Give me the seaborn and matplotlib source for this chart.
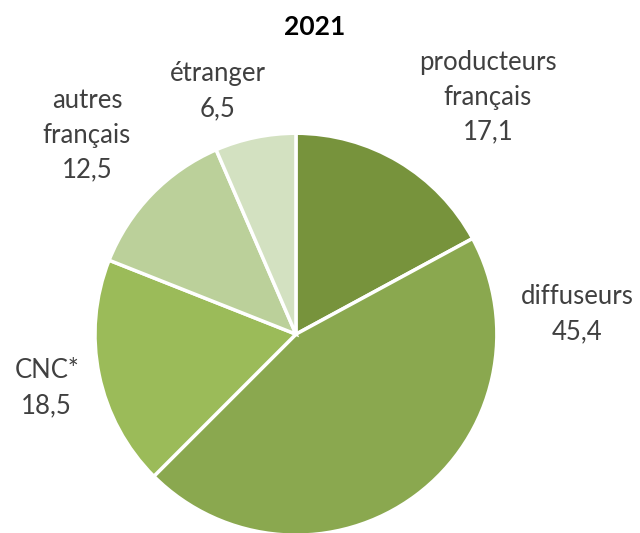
import numpy as np
import matplotlib
matplotlib.use("Agg")
import matplotlib.pyplot as plt
import seaborn as sns

# ==========================
# DATA
# ==========================

categories = [
    "producteurs\nfrançais",
    "diffuseurs",
    "CNC*",
    "autres\nfrançais",
    "étranger"
]

values = [17.1, 45.4, 18.5, 12.5, 6.5]

value_labels = ["17,1", "45,4", "18,5", "12,5", "6,5"]

colors = ["#77933C", "#8AA84F", "#9BBB59", "#BBD09A", "#D3E1C1"]

# label placement (data units, pie radius = 1)
label_pos = [
    (0.955, 1.18),
    (1.40, 0.10),
    (-1.24, -0.27),
    (-1.04, 0.99),
    (-0.39, 1.21)
]

# ==========================
# PLOT
# ==========================

sns.set_theme(style="white")
plt.rcParams["font.family"] = ["Lato", "DejaVu Sans"]

fig = plt.figure(figsize=(6.4, 5.33), dpi=100)
ax = fig.add_axes([0.1484, -0.004, 0.628, 0.754])

ax.pie(
    values,
    colors=colors,
    startangle=90,
    counterclock=False,
    radius=1,
    wedgeprops=dict(edgecolor="white", linewidth=2.5)
)

for cat, val, (x, y) in zip(categories, value_labels, label_pos):
    ax.text(
        x, y,
        f"{cat}\n{val}",
        ha="center",
        va="center",
        fontsize=18.5,
        color="#404040",
        linespacing=1.5,
        clip_on=False
    )

ax.set_xlim(-1, 1)
ax.set_ylim(-1, 1)
ax.set_aspect("equal")
ax.axis("off")

fig.text(
    0.492, 0.950,
    "2021",
    ha="center",
    va="center",
    fontsize=19,
    fontweight="bold",
    color="black"
)

fig.savefig("out.png", dpi=100, facecolor="white")
